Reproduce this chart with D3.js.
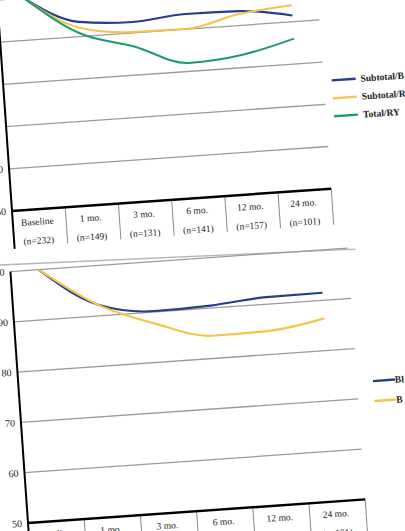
<!DOCTYPE html>
<html>
<head>
<meta charset="utf-8">
<script src="https://cdn.jsdelivr.net/npm/d3@7"></script>
<style>
  html, body { margin: 0; padding: 0; background: #fff; overflow: hidden; }
  svg { display: block; font-family: "Liberation Serif", "Times New Roman", serif; }
</style>
</head>
<body>
<script>
// ---- data ----
const categories = ["Baseline", "1 mo.", "3 mo.", "6 mo.", "12 mo.", "24 mo."];
const sampleSizes = ["(n=232)", "(n=149)", "(n=131)", "(n=141)", "(n=157)", "(n=101)"];
const yTicks = [50, 60, 70, 80, 90, 100];

// top panel
const topSubtotalB = [100, 93.5, 92.6, 93.6, 93.4, 91.5];
const topSubtotalR = [100, 92.1, 90.2, 90.1, 92.7, 93.9];
const topTotalRY   = [100, 90.8, 86.8, 82.0, 83.0, 86.0];
const topLegend = ["Subtotal/B", "Subtotal/R", "Total/RY"];

// bottom panel
const bottomSeries1 = [100, 92.3, 90.2, 90.5, 91.4, 91.5];
const bottomSeries2 = [100, 92.3, 87.7, 84.5, 84.7, 86.4];
const bottomLegend = ["Bl", "B"];

// ---- styles ----
const colors = { blue: "#233f86", yellow: "#f2c64e", green: "#1f9a6c" };

const svg = d3.select("body").append("svg")
  .attr("width", 405).attr("height", 531);

function drawPanel(opt) {
  const g = svg.append("g")
    .attr("transform", `translate(${opt.ox},${opt.oy}) rotate(-4)`);

  const x = d3.scaleBand().domain(categories).range([0, opt.width]);
  const y = d3.scaleLinear().domain([50, 100]).range([0, -opt.height]);

  // gridlines
  g.selectAll(".grid").data(yTicks.filter(t => t > 50)).join("line")
    .attr("x1", 0).attr("x2", opt.width)
    .attr("y1", d => y(d)).attr("y2", d => y(d))
    .attr("stroke", "#9a9a9a").attr("stroke-width", 1.3);

  // y axis line (extends into the table)
  g.append("line")
    .attr("x1", 0).attr("x2", 0)
    .attr("y1", y(100)).attr("y2", opt.tableDepth)
    .attr("stroke", "#000").attr("stroke-width", 2);

  // y tick labels
  g.selectAll(".ylab").data(yTicks).join("text")
    .attr("x", -6).attr("y", d => y(d) + 3.3)
    .attr("text-anchor", "end")
    .attr("font-size", 10).attr("fill", "#222")
    .text(d => d);

  // table column separators
  const seps = categories.map(c => x(c) + x.bandwidth());
  g.selectAll(".sep").data(seps).join("line")
    .attr("x1", d => d).attr("x2", d => d)
    .attr("y1", 0).attr("y2", opt.tableDepth - 2)
    .attr("stroke", "#8a8a8a").attr("stroke-width", 1);

  // bottom axis (thick)
  g.append("line")
    .attr("x1", 0).attr("x2", opt.width)
    .attr("y1", 0).attr("y2", 0)
    .attr("stroke", "#000").attr("stroke-width", 2.4);

  // table text
  g.selectAll(".cat").data(categories).join("text")
    .attr("x", d => x(d) + x.bandwidth() / 2 - 2)
    .attr("y", 15.5)
    .attr("text-anchor", "middle")
    .attr("font-size", 9.5).attr("fill", "#222")
    .text(d => d);
  g.selectAll(".nn").data(sampleSizes).join("text")
    .attr("x", (d, i) => x(categories[i]) + x.bandwidth() / 2 - 2)
    .attr("y", 34.5)
    .attr("text-anchor", "middle")
    .attr("font-size", 9.5).attr("fill", "#222")
    .text(d => d);

  // series lines
  const line = d3.line()
    .x((d, i) => x(categories[i]) + x.bandwidth() / 2)
    .y(d => y(d))
    .curve(d3.curveMonotoneX);
  opt.series.forEach(s => {
    g.append("path")
      .attr("d", line(s.values))
      .attr("fill", "none")
      .attr("stroke", s.color)
      .attr("stroke-width", 2.1)
      .attr("stroke-linejoin", "round");
  });

  // legend
  opt.series.forEach((s, i) => {
    const ly = opt.legend.y + i * opt.legend.step;
    g.append("line")
      .attr("x1", opt.legend.x).attr("x2", opt.legend.x + opt.legend.len)
      .attr("y1", ly).attr("y2", ly)
      .attr("stroke", s.color).attr("stroke-width", 2.4);
    g.append("text")
      .attr("x", opt.legend.tx).attr("y", ly + 3.3)
      .attr("font-size", 9.5).attr("font-weight", "bold").attr("fill", "#1a1a1a")
      .text(s.name);
  });
  return g;
}

const topG = drawPanel({
  ox: 12, oy: 211, width: 320, height: 211.5, tableDepth: 38,
  series: [
    { name: topLegend[0], values: topSubtotalB, color: colors.blue },
    { name: topLegend[1], values: topSubtotalR, color: colors.yellow },
    { name: topLegend[2], values: topTotalRY, color: colors.green }
  ],
  legend: { x: 328, len: 24, tx: 357, y: -108, step: 18 }
});

// faint rule below the top table
topG.append("line")
  .attr("x1", -16).attr("y1", 53).attr("x2", 340).attr("y2", 62)
  .attr("stroke", "#b5b5b5").attr("stroke-width", 1.3);

drawPanel({
  ox: 28, oy: 523, width: 338, height: 252, tableDepth: 45,
  series: [
    { name: bottomLegend[0], values: bottomSeries1, color: colors.blue },
    { name: bottomLegend[1], values: bottomSeries2, color: colors.yellow }
  ],
  legend: { x: 354, len: 22, tx: 376, y: -117.5, step: 20 }
});
</script>
</body>
</html>
